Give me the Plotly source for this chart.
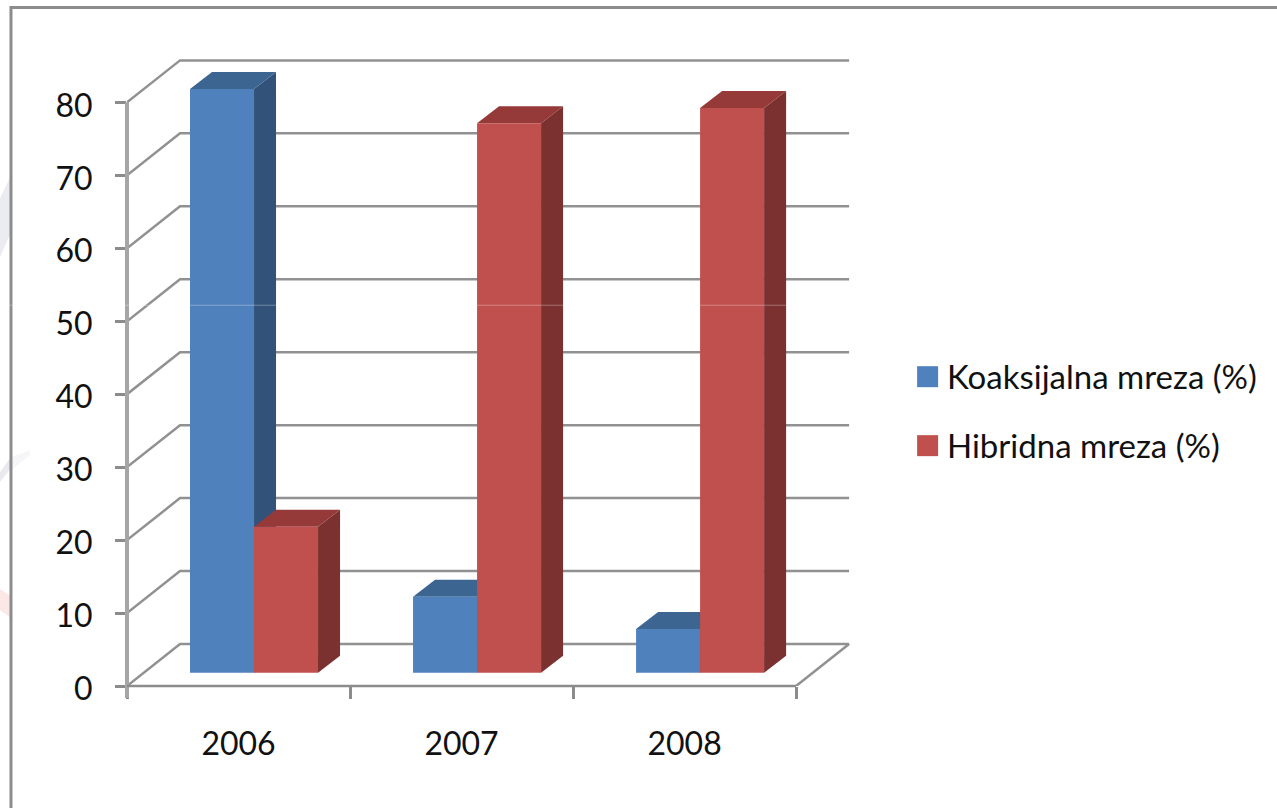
import plotly.graph_objects as go

# ---- data ----
categories = ["2006", "2007", "2008"]
series_names = ["Koaksijalna mreza (%)", "Hibridna mreza (%)"]
koaksijalna = [80, 10.4, 6]
hibridna = [20, 75.3, 77.4]
y_ticks = [0, 10, 20, 30, 40, 50, 60, 70, 80]

# ---- figure geometry (pixels of the 1277x808 page) ----
W, H = 1277, 808
PX_X, PX_Y = 223.0, 7.3          # pixels per category / per percent
L, B = 127, 122
X_MAX, Y_MAX = 3.3, 88
PLOT_W, PLOT_H = X_MAX * PX_X, Y_MAX * PX_Y
T = H - B - PLOT_H
R = W - L - PLOT_W

WALL_DX, WALL_DY = 53 / PX_X, 42 / PX_Y      # depth of the chart box
BAR_DX, BAR_DY = 22 / PX_X, 17 / PX_Y        # depth of one bar
BAR_W = 64 / PX_X
BAR_START = 63 / PX_X                         # first bar inside a category
BAR_BASE = 13.3 / PX_Y                        # bars stand forward on the floor

BLUE, BLUE_TOP, BLUE_SIDE = "#4f81bd", "#3d6592", "#32527a"
RED, RED_TOP, RED_SIDE = "#c0504d", "#953a38", "#7b3130"
GRID = "#919191"
TEXT = "#111111"
FONT = "Lato"


def px(x):
    return (x - L) / PLOT_W


def py(y):
    return (H - B - y) / PLOT_H


def poly(points, color):
    d = "M" + " L".join(f"{x:.4f} {y:.4f}" for x, y in points) + " Z"
    return dict(type="path", path=d, xref="x", yref="y", fillcolor=color,
                line=dict(width=0), layer="below")


def page_poly(points, color):
    d = "M" + " L".join(f"{px(x):.5f} {py(y):.5f}" for x, y in points) + " Z"
    return dict(type="path", path=d, xref="paper", yref="paper",
                fillcolor=color, line=dict(width=0), layer="below")


shapes = []

# faint remains of a background picture at the left edge
shapes.append(page_poly([(0, 198), (11, 175), (11, 232), (0, 257)], "#ebebf2"))
shapes.append(page_poly([(0, 472), (11, 457), (11, 468), (0, 482)], "#e9e9ef"))
shapes.append(page_poly([(11, 457), (30, 450), (30, 455), (11, 470)], "#f6f6f9"))
shapes.append(page_poly([(0, 589), (11, 596), (11, 618), (0, 610)], "#fbe7e6"))

# gridlines: side wall then back wall
for v in y_ticks:
    d = (f"M0 {v} L{WALL_DX:.4f} {v + WALL_DY:.4f} "
         f"L{3 + WALL_DX:.4f} {v + WALL_DY:.4f}")
    shapes.append(dict(type="path", path=d, xref="x", yref="y",
                       line=dict(color=GRID, width=2.5), layer="below"))
# right edge of the floor
shapes.append(dict(type="line", xref="x", yref="y", x0=3, y0=0,
                   x1=3 + WALL_DX, y1=WALL_DY,
                   line=dict(color=GRID, width=2.5), layer="below"))

# top and side faces of the bars
for s, (vals, top_c, side_c) in enumerate(
        [(koaksijalna, BLUE_TOP, BLUE_SIDE), (hibridna, RED_TOP, RED_SIDE)]):
    for i, v in enumerate(vals):
        x0 = i + BAR_START + s * BAR_W
        x1 = x0 + BAR_W
        y0 = BAR_BASE
        y1 = BAR_BASE + v
        shapes.append(poly([(x1, y0), (x1 + BAR_DX, y0 + BAR_DY),
                            (x1 + BAR_DX, y1 + BAR_DY), (x1, y1)], side_c))
        shapes.append(poly([(x0, y1), (x0 + BAR_DX, y1 + BAR_DY),
                            (x1 + BAR_DX, y1 + BAR_DY), (x1, y1)], top_c))

# axis lines end at the last tick, not at the end of the plot box
y_top_px = H - B - y_ticks[-1] * PX_Y
x_end_px = L + len(categories) * PX_X
shapes.append(dict(type="line", xref="paper", yref="paper",
                   x0=px(L), x1=px(L), y0=py(H - B + 12), y1=py(y_top_px),
                   line=dict(color="#a6a6a6", width=4)))
shapes.append(dict(type="line", xref="paper", yref="paper",
                   x0=px(L), x1=px(x_end_px), y0=py(H - B), y1=py(H - B),
                   line=dict(color="#8c8c8c", width=2.5)))

# outer frame of the picture
shapes.append(dict(type="path", xref="paper", yref="paper",
                   path=f"M{px(11):.5f} {py(808):.5f} L{px(11):.5f} {py(7):.5f} L{px(1277):.5f} {py(7):.5f}",
                   line=dict(color="#8c8c8c", width=3)))

# faint scan seam across the picture
shapes.append(dict(type="line", xref="paper", yref="paper",
                   x0=px(0), x1=px(1277), y0=py(305), y1=py(305),
                   line=dict(color="#ffffff", width=1), opacity=0.3))

# legend swatches
annotations = []
for name, color, y in zip(series_names, [BLUE, RED], [376.5, 445.5]):
    shapes.append(dict(type="rect", xref="paper", yref="paper",
                       x0=px(917), x1=px(938), y0=py(y + 10.5), y1=py(y - 10.5),
                       fillcolor=color, line=dict(width=0)))
    annotations.append(dict(xref="paper", yref="paper", x=px(945), y=py(y - 1),
                            text=name, showarrow=False, xanchor="left",
                            yanchor="middle",
                            font=dict(family=FONT, size=33, color=TEXT)))

fig = go.Figure()
for s, (name, vals, color) in enumerate(
        [(series_names[0], koaksijalna, BLUE), (series_names[1], hibridna, RED)]):
    fig.add_trace(go.Bar(
        name=name,
        x=[i + 0.5 for i in range(len(categories))],
        y=vals,
        base=BAR_BASE,
        width=BAR_W,
        offset=BAR_START - 0.5 + s * BAR_W,
        marker=dict(color=color, line=dict(width=0)),
        cliponaxis=False,
        showlegend=False,
    ))

fig.update_layout(
    width=W, height=H,
    margin=dict(l=L, r=R, t=T, b=B, pad=0),
    paper_bgcolor="white", plot_bgcolor="white",
    barmode="overlay",
    shapes=shapes, annotations=annotations,
    font=dict(family=FONT, color=TEXT),
    xaxis=dict(
        range=[0, X_MAX], showgrid=False, zeroline=False, showline=False,
        tickmode="array", tickvals=[0.5, 1.5, 2.5], ticktext=categories,
        ticks="", ticklabelstandoff=36,
        tickfont=dict(family=FONT, size=32, color=TEXT),
        minor=dict(tickmode="array", tickvals=[0, 1, 2, 3], ticks="outside",
                   ticklen=12, tickwidth=3, tickcolor="#8c8c8c", showgrid=False),
    ),
    yaxis=dict(
        range=[0, Y_MAX], showgrid=False, zeroline=False, showline=False,
        tickmode="array", tickvals=y_ticks, ticks="outside", ticklen=11,
        tickwidth=3, tickcolor="#8c8c8c", ticklabelstandoff=16, ticklabelshift=3,
        tickfont=dict(family=FONT, size=32, color=TEXT),
    ),
)

fig.write_html("out.html", config=dict(displayModeBar=False),
               post_script="document.body.style.margin='0';document.body.style.overflow='hidden';")
